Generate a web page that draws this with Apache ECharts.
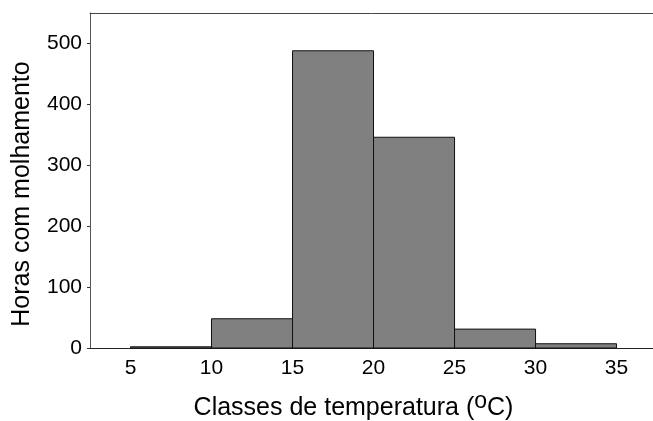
<!DOCTYPE html>
<html>
<head>
<meta charset="utf-8">
<script src="https://cdn.jsdelivr.net/npm/echarts@6/dist/echarts.min.js"></script>
<style>
  html, body { margin: 0; padding: 0; background: #fff; }
  #chart { width: 653px; height: 421px; }
</style>
</head>
<body>
<div id="chart"></div>
<script>
// Histogram bins (temperature classes, °C) and wet hours per class
const binStart = [5, 10, 15, 20, 25, 30]
const binEnd = [10, 15, 20, 25, 30, 35]
const hours = [2, 48, 488, 346, 31, 7]

const xTicks = [5, 10, 15, 20, 25, 30, 35]
const yTicks = [0, 100, 200, 300, 400, 500]

const FONT = '"Liberation Sans", Arial, sans-serif'
const BAR_FILL = '#808080'

const chart = echarts.init(document.getElementById('chart'))

chart.setOption({
  animation: false,
  backgroundColor: '#fff',
  textStyle: { fontFamily: FONT },
  grid: { left: 90, right: 0, top: 13, bottom: 73, outerBoundsMode: 'none' },
  xAxis: [
    {
      type: 'value',
      min: 2.5,
      max: 37.25,
      name: 'Classes de temperatura ({sup|o}C)',
      nameLocation: 'middle',
      nameGap: 42,
      nameTextStyle: {
        fontSize: 25,
        lineHeight: 36,
        color: '#000',
        padding: [0, 36, 0, 0],
        rich: {
          // raised "o" for the degree sign
          sup: { fontSize: 23, lineHeight: 23, verticalAlign: 'top', color: '#000' },
        },
      },
      axisLine: { show: true, onZero: false, lineStyle: { color: '#222', width: 1 } },
      axisTick: { show: false },
      axisLabel: {
        customValues: xTicks,
        fontSize: 21,
        color: '#000',
        margin: 10,
      },
      splitLine: { show: false },
    },
    {
      // top frame line only
      type: 'value',
      position: 'top',
      min: 2.5,
      max: 37.25,
      axisLine: { show: true, onZero: false, lineStyle: { color: '#444', width: 1 } },
      axisTick: { show: false },
      axisLabel: { show: false },
      splitLine: { show: false },
    },
  ],
  yAxis: {
    type: 'value',
    min: 0,
    max: 550,
    name: 'Horas com molhamento',
    nameLocation: 'middle',
    nameGap: 55,
    nameTextStyle: { fontSize: 25, color: '#000', padding: [0, 27, 0, 0] },
    axisLine: { show: true, lineStyle: { color: '#555', width: 1 } },
    axisTick: {
      show: true,
      customValues: yTicks,
      length: 3,
      lineStyle: { color: '#333' },
    },
    axisLabel: {
      customValues: yTicks,
      fontSize: 21,
      color: '#000',
      margin: 8,
    },
    splitLine: { show: false },
  },
  series: [
    {
      type: 'custom',
      xAxisIndex: 0,
      data: hours.map((h, i) => [binStart[i], binEnd[i], h]),
      renderItem: (params, api) => {
        const p0 = api.coord([api.value(0), 0])
        const p1 = api.coord([api.value(1), api.value(2)])
        return {
          type: 'rect',
          shape: { x: p0[0], y: p1[1], width: p1[0] - p0[0], height: p0[1] - p1[1] },
          style: { fill: BAR_FILL, stroke: '#111', lineWidth: 1 },
        }
      },
      z: 1,
    },
  ],
})
</script>
</body>
</html>
